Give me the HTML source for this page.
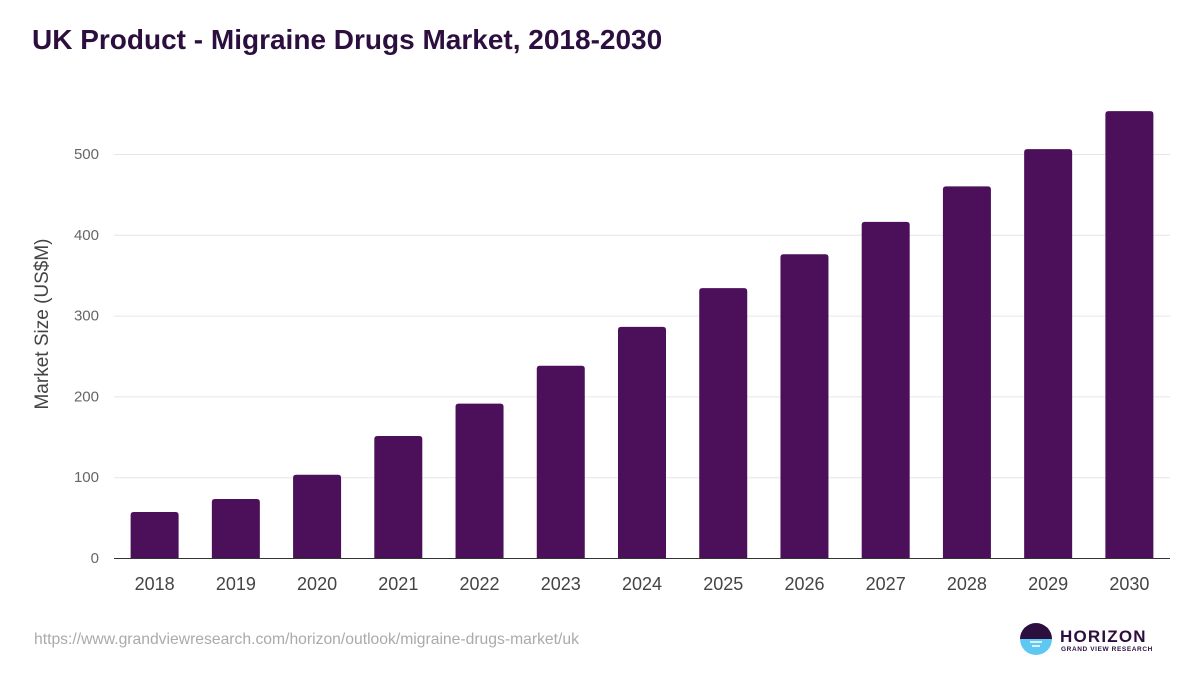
<!DOCTYPE html>
<html><head><meta charset="utf-8"><style>
body{margin:0;background:#fff;font-family:"Liberation Sans",sans-serif;}
</style></head><body>
<svg id="c" width="1200" height="675" xmlns="http://www.w3.org/2000/svg">
<text x="32" y="49" font-size="28" font-weight="bold" fill="#2c0f3f">UK Product - Migraine Drugs Market, 2018-2030</text>
<text transform="translate(48,324) rotate(-90)" text-anchor="middle" font-size="19" fill="#444">Market Size (US$M)</text>
<g id="grid"></g><g id="bars"></g><g id="xl"></g>
<line x1="114" x2="1170" y1="558.5" y2="558.5" stroke="#333" stroke-width="1"/>
<text x="34" y="644" font-size="15.7" fill="#aaa">https://www.grandviewresearch.com/horizon/outlook/migraine-drugs-market/uk</text>
<g>
<path d="M1020,639 a16,16 0 0 1 32,0 z" fill="#2c0f3f"/>
<path d="M1020,639 a16,16 0 0 0 32,0 z" fill="#5ec8f2"/>
<line x1="1030" x2="1042" y1="642" y2="642" stroke="#fff" stroke-width="1.5"/>
<line x1="1032" x2="1040" y1="646" y2="646" stroke="#fff" stroke-width="1.5"/>
<text x="1060" y="642" font-size="17" font-weight="bold" fill="#2c0f3f" letter-spacing="1.2">HORIZON</text>
<text x="1061" y="651" font-size="6.5" font-weight="bold" fill="#2c0f3f" letter-spacing="0.6">GRAND VIEW RESEARCH</text>
</g>
</svg>
<script>
const years=["2018","2019","2020","2021","2022","2023","2024","2025","2026","2027","2028","2029","2030"];
const values=[57,73,103,151,191,238,286,334,376,416,460,506,553];
const yTicks=[0,100,200,300,400,500];
const NS="http://www.w3.org/2000/svg";
const left=114,right=1170,y0=558,pxPer=0.808;
const band=(right-left)/years.length,bw=48;
const y=v=>y0-v*pxPer;
const g=document.getElementById('grid'),b=document.getElementById('bars'),xl=document.getElementById('xl');
function mk(tag,attrs,parent){const e=document.createElementNS(NS,tag);for(const k in attrs)e.setAttribute(k,attrs[k]);parent.appendChild(e);return e;}
yTicks.forEach(t=>{
 if(t>0){const l=mk('line',{x1:left,x2:right,y1:y(t)+0.5,y2:y(t)+0.5,stroke:'#e6e6e6'},g);
 
 }
 const tx=mk('text',{x:99,y:y(t)+5,'text-anchor':'end','font-size':15,fill:'#666'},g);
 tx.textContent=t;
 
 
});
years.forEach((yr,i)=>{
 const cx=left+band*(i+0.5);
 const r=mk('path',{d:`M${cx-bw/2},${y0} V${y(values[i])+3} q0,-3 3,-3 H${cx+bw/2-3} q3,0 3,3 V${y0} Z`,fill:'#4b1059'},b);
 
 
 const t=mk('text',{x:cx,y:590,'text-anchor':'middle','font-size':18,fill:'#444'},xl);
 t.textContent=yr;
 
 
});
</script>
</body></html>
